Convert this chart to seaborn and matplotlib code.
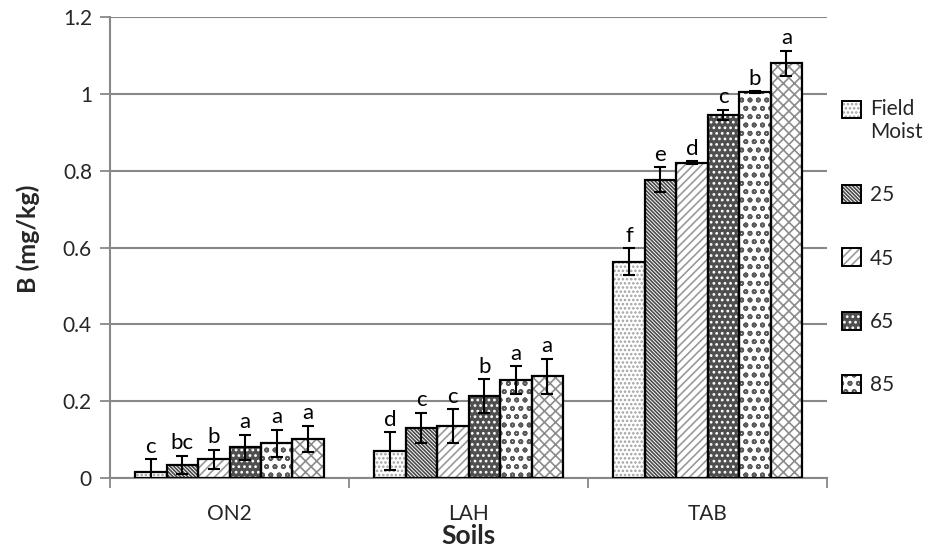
import numpy as np
import pandas as pd
import seaborn as sns
import matplotlib.pyplot as plt
from matplotlib.patches import Rectangle, Patch
from matplotlib.legend_handler import HandlerTuple

# Boron content by soil and moisture treatment
soils = ["ON2", "LAH", "TAB"]
treatments = ["Field Moist", "25", "45", "65", "85", "100"]

b_field = [0.016, 0.070, 0.563]
b_25 = [0.034, 0.130, 0.777]
b_45 = [0.049, 0.135, 0.821]
b_65 = [0.080, 0.213, 0.945]
b_85 = [0.090, 0.255, 1.005]
b_100 = [0.102, 0.265, 1.080]

se_field = [0.034, 0.049, 0.035]
se_25 = [0.024, 0.040, 0.033]
se_45 = [0.025, 0.044, 0.004]
se_65 = [0.033, 0.044, 0.014]
se_85 = [0.036, 0.037, 0.003]
se_100 = [0.034, 0.046, 0.033]

sig_field = ["c", "d", "f"]
sig_25 = ["bc", "c", "e"]
sig_45 = ["b", "c", "d"]
sig_65 = ["a", "b", "c"]
sig_85 = ["a", "a", "b"]
sig_100 = ["a", "a", "a"]

yticks = [0, 0.2, 0.4, 0.6, 0.8, 1, 1.2]
ytick_labels = ["0", "0.2", "0.4", "0.6", "0.8", "1", "1.2"]

values = [b_field, b_25, b_45, b_65, b_85, b_100]
errors = [se_field, se_25, se_45, se_65, se_85, se_100]
letters = [sig_field, sig_25, sig_45, sig_65, sig_85, sig_100]

df = pd.DataFrame({
    "Soil": np.repeat([soils], len(treatments), axis=0).ravel(),
    "Treatment": np.repeat(treatments, len(soils)),
    "B": np.concatenate(values),
})

# fill patterns: (face colour, hatch, hatch colour)
styles = [
    ("white", "....", "#a0a0a0"),
    ("white", "\\" * 9, "#4a4a4a"),
    ("white", "////", "#9a9a9a"),
    ("#4f4f4f", "...", "white"),
    ("white", "oo", "#5a5a5a"),
    ("white", "xxx", "#8c8c8c"),
]


class FirstLineHandler(HandlerTuple):
    """Overlay handler that lifts the swatch to sit beside the first label line."""

    def __init__(self, lift=0.0, **kw):
        super().__init__(**kw)
        self.lift = lift

    def create_artists(self, legend, orig_handle, xdescent, ydescent,
                       width, height, fontsize, trans):
        return super().create_artists(legend, orig_handle, xdescent,
                                      ydescent - self.lift, width, height,
                                      fontsize, trans)


sns.set_theme(style="white")
plt.rcParams["font.family"] = ["Lato", "DejaVu Sans"]
plt.rcParams["hatch.linewidth"] = 1.2

fig = plt.figure(figsize=(9.29, 5.52), dpi=100)
ax = fig.add_axes([0.1184, 0.134, 0.772, 0.835])

sns.barplot(data=df, x="Soil", y="B", hue="Treatment", order=soils,
            hue_order=treatments, width=0.79, errorbar=None, legend=False,
            palette=["white"] * len(treatments), ax=ax, zorder=3)

bar_groups = list(ax.containers)
for i, cont in enumerate(bar_groups):
    fc, hatch, hc = styles[i]
    xs = []
    for patch in cont.patches:
        patch.set_facecolor(fc)
        patch.set_hatch(hatch)
        patch.set_edgecolor(hc)
        patch.set_linewidth(0)
        x0, y0 = patch.get_xy()
        w, h = patch.get_width(), patch.get_height()
        ax.add_patch(Rectangle((x0, y0), w, h, fill=False, edgecolor="black",
                               linewidth=1.6, zorder=4))
        xs.append(x0 + w / 2)
    ax.errorbar(xs, values[i], yerr=errors[i], fmt="none", ecolor="black",
                elinewidth=1.5, capsize=4, capthick=1.5, zorder=5)
    for x, v, e, lab in zip(xs, values[i], errors[i], letters[i]):
        ax.text(x, v + e + 0.006, lab, ha="center", va="bottom",
                fontsize=16, color="black", zorder=6)

grid_c = "#888888"
ax.set_ylim(0, 1.2)
ax.set_xlim(-0.5, 2.5)
ax.set_yticks(yticks)
ax.set_yticklabels(ytick_labels, fontsize=15)
ax.yaxis.grid(True, color=grid_c, linewidth=1.5, zorder=0)
ax.set_axisbelow(True)
ax.tick_params(axis="y", which="major", direction="out", length=7,
               width=1.3, color=grid_c, left=True, pad=6)
ax.set_xticks([0, 1, 2])
ax.set_xticklabels(soils, fontsize=15)
ax.tick_params(axis="x", which="major", length=0, pad=19)
ax.set_xticks([-0.5, 0.5, 1.5, 2.5], minor=True)
ax.tick_params(axis="x", which="minor", direction="out", length=7,
               width=1.3, color=grid_c, bottom=True)
for side in ["top", "right"]:
    ax.spines[side].set_visible(False)
for side in ["left", "bottom"]:
    ax.spines[side].set_color(grid_c)
    ax.spines[side].set_linewidth(1.5)

ax.set_xlabel("Soils", fontsize=19, fontweight="bold")
ax.xaxis.set_label_coords(0.5, -0.100)
ax.set_ylabel("B (mg/kg)", fontsize=18, fontweight="bold")
ax.yaxis.set_label_coords(-0.097, 0.52)

legend_labels = ["Field\nMoist", "25", "45", "65", "85"]
handles = [(Patch(facecolor=styles[i][0], hatch=styles[i][1],
                  edgecolor=styles[i][2], linewidth=0),
            Patch(fill=False, edgecolor="black", linewidth=1.4))
           for i in range(len(legend_labels))]
hmap = {handles[0]: FirstLineHandler(lift=8.5, ndivide=1)}
for h in handles[1:]:
    hmap[h] = HandlerTuple(ndivide=1)
leg = fig.legend(handles, legend_labels, loc="upper left",
                 handler_map=hmap,
                 bbox_to_anchor=(0.897, 0.836), frameon=False, fontsize=15,
                 handlelength=0.95, handleheight=0.95, handletextpad=0.4,
                 labelspacing=2.07, borderaxespad=0)

fig.savefig("out.png", dpi=100)
